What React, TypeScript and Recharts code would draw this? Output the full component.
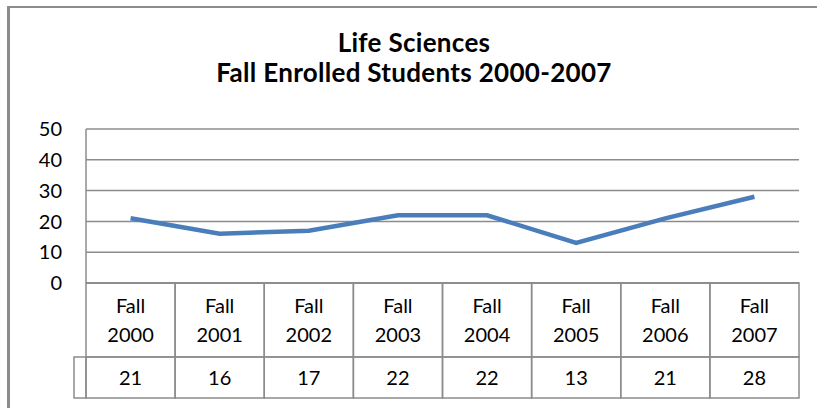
import React from "react";
import { LineChart, Line, XAxis, YAxis, CartesianGrid } from "recharts";

const terms = ["Fall", "Fall", "Fall", "Fall", "Fall", "Fall", "Fall", "Fall"];
const years = ["2000", "2001", "2002", "2003", "2004", "2005", "2006", "2007"];
const enrolled = [21, 16, 17, 22, 22, 13, 21, 28];
const yTicks = [0, 10, 20, 30, 40, 50];
const titleLines = ["Life Sciences", "Fall Enrolled Students 2000-2007"];

const data = years.map((y, i) => ({
  label: `${terms[i]} ${y}`,
  term: terms[i],
  year: y,
  value: enrolled[i],
}));

const W = 817;
const H = 408;
const LEFT = 86;
const RIGHT = 18;
const GRAY = "#8c8c8c";
const FONT = "Lato, 'Liberation Sans', sans-serif";
// width of one category column in the table under the plot
const BW = (W - LEFT - RIGHT) / data.length;

const TableTick = (props: any) => {
  const { x, y, payload, index } = props;
  const d = data[index];
  const x0 = x - BW / 2;
  return (
    <g>
      <rect x={x0} y={y} width={BW} height={74} fill="none" stroke={GRAY} strokeWidth={1.5} />
      <rect x={x0} y={y + 74} width={BW} height={41} fill="none" stroke={GRAY} strokeWidth={1.5} />
      {index === 0 && (
        <rect x={x0 - 12} y={y + 74} width={12} height={41} fill="none" stroke={GRAY} strokeWidth={1.5} />
      )}
      <text x={x} y={y + 30} textAnchor="middle" fontSize={20} fontFamily={FONT} fill="#000">
        {d ? d.term : payload.value}
      </text>
      <text x={x} y={y + 59} textAnchor="middle" fontSize={20} fontFamily={FONT} fill="#000">
        {d ? d.year : ""}
      </text>
      <text x={x} y={y + 102} textAnchor="middle" fontSize={20} fontFamily={FONT} fill="#000">
        {d ? d.value : ""}
      </text>
    </g>
  );
};

export default function App() {
  return (
    <div style={{ position: "absolute", left: 0, top: 0, width: W, height: H, background: "#fff", overflow: "hidden" }}>
      <div
        style={{
          position: "absolute",
          left: 7,
          top: 6,
          width: W,
          height: H,
          borderLeft: `3px solid ${GRAY}`,
          borderTop: `2px solid ${GRAY}`,
        }}
      />
      <div
        style={{
          position: "absolute",
          left: 0,
          width: 828,
          top: 27,
          textAlign: "center",
          fontFamily: FONT,
          fontWeight: 700,
          fontSize: 26,
          letterSpacing: 0.3,
          lineHeight: "30px",
          color: "#000",
        }}
      >
        {titleLines.map((t) => (
          <div key={t}>{t}</div>
        ))}
      </div>
      <LineChart
        width={W}
        height={H}
        data={data}
        margin={{ top: 129, right: RIGHT, left: 0, bottom: 10 }}
        style={{ position: "absolute", left: 0, top: 0 }}
      >
        <CartesianGrid stroke={GRAY} strokeWidth={1.5} vertical={false} />
        <XAxis
          dataKey="label"
          height={115}
          padding={{ left: BW / 2, right: BW / 2 }}
          axisLine={{ stroke: GRAY, strokeWidth: 1.5 }}
          tickLine={false}
          tickSize={0}
          tickMargin={0}
          interval={0}
          tick={<TableTick />}
        />
        <YAxis
          width={LEFT}
          domain={[0, 50]}
          ticks={yTicks}
          axisLine={{ stroke: GRAY, strokeWidth: 1.5 }}
          tickLine={false}
          tickSize={0}
          tickMargin={24}
          tick={{ fontSize: 20, fontFamily: FONT, fill: "#000" }}
        />
        <Line
          dataKey="value"
          stroke="#4a7ebb"
          strokeWidth={4.5}
          dot={false}
          activeDot={false}
          isAnimationActive={false}
        />
      </LineChart>
    </div>
  );
}
